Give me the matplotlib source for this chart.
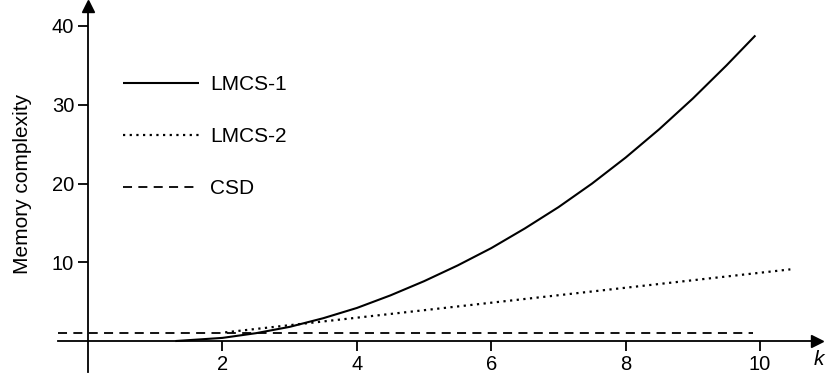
import matplotlib
matplotlib.use("Agg")
import matplotlib.pyplot as plt

plt.rcParams['font.family'] = ['Liberation Sans', 'DejaVu Sans']

# values
k_lmcs1 = [1.3, 2, 2.5, 3, 3.5, 4, 4.5, 5, 5.5, 6, 6.5, 7, 7.5, 8, 8.5, 9, 9.5, 9.93]
y_lmcs1 = [0, 0.4, 1.0, 1.8, 2.9, 4.2, 5.8, 7.6, 9.6, 11.8, 14.3, 17.0, 20.0, 23.3, 26.9, 30.8, 35.0, 38.8]
k_lmcs2 = [2.04, 10.45]
y_lmcs2 = [1.1, 9.1]
k_csd = [-0.45, 9.9]
y_csd = [1.0, 1.0]

xticks = [2, 4, 6, 8, 10]
yticks = [10, 20, 30, 40]
labels = ['LMCS-1', 'LMCS-2', 'CSD']

fig = plt.figure(figsize=(8.28, 3.82), dpi=100)
ax = fig.add_axes([0, 0, 1, 1])
ax.set_xlim(-1.31, 11.01)
ax.set_ylim(-5.2, 43.3)

l1, = ax.plot(k_lmcs1, y_lmcs1, color='black', lw=1.5, solid_capstyle='butt')
l2, = ax.plot(k_lmcs2, y_lmcs2, color='black', lw=1.6, ls=(0, (1, 2.0)))
l3, = ax.plot(k_csd, y_csd, color='black', lw=1.3, ls=(0, (5, 3.5)))

# axes through the origin
for s in ['top', 'right']:
    ax.spines[s].set_visible(False)
ax.spines['left'].set_position(('data', 0))
ax.spines['bottom'].set_position(('data', 0))
ax.spines['left'].set_bounds(-3.9, 42.5)
ax.spines['bottom'].set_bounds(-0.45, 10.8)
ax.spines['left'].set_linewidth(1.3)
ax.spines['bottom'].set_linewidth(1.3)
ax.plot(10.85, 0, marker='>', color='black', ms=8, clip_on=False)
ax.plot(0, 42.6, marker='^', color='black', ms=8, clip_on=False)

ax.set_xticks(xticks)
ax.set_yticks(yticks)
ax.tick_params(direction='out', length=7, width=1.3, labelsize=14.5, pad=3)
ax.text(10.88, -1.1, 'k', style='italic', fontsize=15, ha='center', va='top')
ax.text(-0.97, 20, 'Memory complexity', rotation=90, fontsize=15, ha='center', va='center')

ax.legend([l1, l2, l3], labels, loc='upper left', bbox_to_anchor=(0.139, 0.826),
          frameon=False, fontsize=15, handlelength=3.65, handletextpad=0.5,
          labelspacing=1.6, borderaxespad=0)

fig.savefig('out.png', dpi=100)
